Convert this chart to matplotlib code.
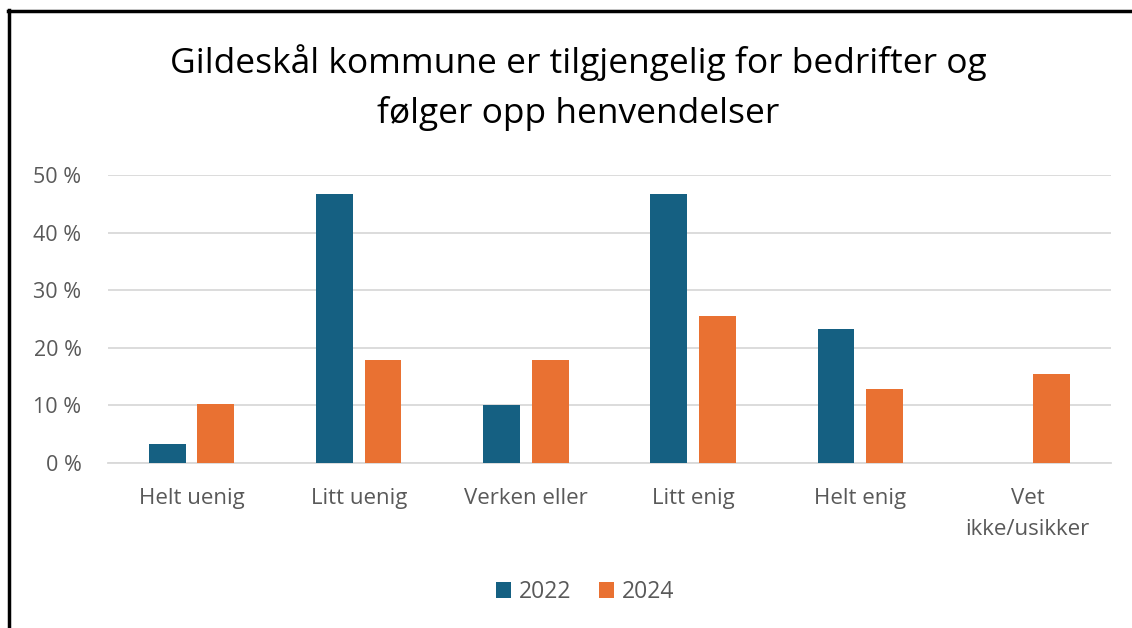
import matplotlib
matplotlib.use("Agg")
import matplotlib.pyplot as plt
import numpy as np
from matplotlib.lines import Line2D

categories = ["Helt uenig", "Litt uenig", "Verken eller", "Litt enig", "Helt enig", "Vet\nikke/usikker"]
series_names = ["2022", "2024"]
values_2022 = [3.3, 46.7, 10.0, 46.7, 23.3, 0.0]
values_2024 = [10.3, 17.9, 17.9, 25.6, 12.8, 15.4]
yticks = [0, 10, 20, 30, 40, 50]
ytick_labels = ["0 %", "10 %", "20 %", "30 %", "40 %", "50 %"]
title = "Gildeskål kommune er tilgjengelig for bedrifter og\nfølger opp henvendelser"

c2022 = "#156082"
c2024 = "#E97132"
gray = "#595959"

plt.rcParams['font.family'] = ['Open Sans', 'DejaVu Sans']

fig = plt.figure(figsize=(11.32, 6.28), dpi=100)
ax = fig.add_axes([108/1132, 1-463/628, (1111-108)/1132, (463-175)/628])

x = np.arange(len(categories))
w = 0.22
off = 0.145
ax.bar(x - off, values_2022, w, color=c2022, label=series_names[0], zorder=3)
ax.bar(x + off, values_2024, w, color=c2024, label=series_names[1], zorder=3)

ax.set_xlim(-0.5, len(categories) - 0.5)
ax.set_ylim(0, 50)
ax.set_yticks(yticks)
ax.set_yticklabels(ytick_labels, color=gray, fontsize=15.5)
ax.set_xticks(x)
ax.set_xticklabels(categories, color=gray, fontsize=16, linespacing=1.6)
ax.tick_params(axis='both', length=0)
ax.tick_params(axis='x', pad=18)
ax.tick_params(axis='y', pad=19)
ax.grid(axis='y', color='#d9d9d9', linewidth=1.3, zorder=0)
for s in ['top', 'right', 'left']:
    ax.spines[s].set_visible(False)
ax.spines['bottom'].set_color('#d9d9d9')
ax.spines['bottom'].set_linewidth(1.3)

fig.text(0.511, 1-88/628, title, ha='center', va='center', fontsize=25.5, color='#000000', linespacing=1.55)

leg = fig.legend(loc='center', bbox_to_anchor=(585/1132, 1-592/628), ncol=2, frameon=False,
                 fontsize=16.5, handlelength=0.65, handleheight=0.65, handletextpad=0.35, columnspacing=1.2)
for t in leg.get_texts():
    t.set_color(gray)

# frame lines (left and top)
fig.add_artist(Line2D([9/1132, 9/1132], [0, 1-10/628], color='black', linewidth=2.5, transform=fig.transFigure))
fig.add_artist(Line2D([8/1132, 1], [1-11/628, 1-11/628], color='black', linewidth=2.5, transform=fig.transFigure))

fig.savefig("out.png", dpi=100)
